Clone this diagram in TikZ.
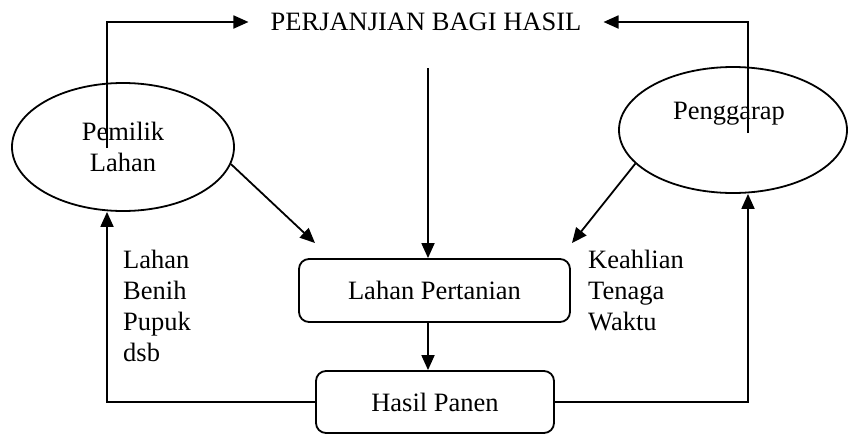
\documentclass[tikz,border=0pt]{standalone}
\usepackage{fontspec}
\setmainfont{Liberation Serif}
\usetikzlibrary{shapes.geometric,arrows.meta}
\begin{document}
\begin{tikzpicture}[x=1pt,y=-1pt,
  every node/.style={font=\fontsize{26.5}{31}\selectfont},
  line/.style={line width=1.8pt},
  arr/.style={line width=1.8pt,-{Triangle[length=15pt,width=13pt]}},
  oval/.style={draw,ellipse,line width=1.8pt,inner sep=0pt},
  rbox/.style={draw,rounded corners=10pt,line width=1.8pt,inner sep=0pt},
  lbl/.style={inner sep=0pt,align=left,anchor=west}]
\useasboundingbox (0,0) rectangle (848,434);
\fill[white] (0,0) rectangle (848,434);
% nodes
\node[inner xsep=22pt,inner ysep=2pt] (title) at (426,22) {PERJANJIAN BAGI HASIL};
\node[oval,minimum width=222pt,minimum height=128pt,align=center] (pemilik) at (123,147) {Pemilik\\Lahan};
\node[oval,minimum width=228pt,minimum height=126pt] (penggarap) at (733,130) {};
\node[inner sep=0pt] (pgtext) at (729,114) {Penggarap};
\node[rbox,minimum width=271pt,minimum height=63pt] (lp) at (434.5,290.5) {Lahan Pertanian};
\node[rbox,minimum width=238pt,minimum height=62pt] (hp) at (435,402) {Hasil Panen};
\node[lbl] (ltext) at (123,306) {Lahan\\Benih\\Pupuk\\dsb};
\node[lbl] (rtext) at (588,291) {Keahlian\\Tenaga\\Waktu};
% coordinates
\coordinate (pl) at (107,148);
\coordinate (pg) at (748,133);
\coordinate (ctop) at (428,68);
\coordinate (d1e) at (315,243);
\coordinate (d2e) at (572,243);
% connectors
\draw[arr] (pl) |- (title.west);
\draw[arr] (pg) |- (title.east);
\draw[arr] (ctop) -- (ctop |- lp.north);
\draw[arr] (ctop |- lp.south) -- (ctop |- hp.north);
\draw[arr] (pemilik.-9) -- (d1e);
\draw[arr] (penggarap.-161) -- (d2e);
\draw[arr] (hp.west) -| (pl |- pemilik.south);
\draw[arr] (hp.east) -| (pg |- penggarap.south);
\end{tikzpicture}
\end{document}
